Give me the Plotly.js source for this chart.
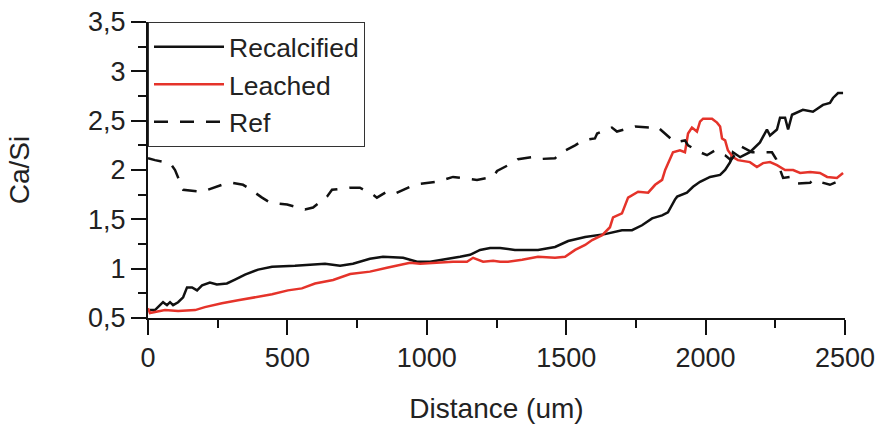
<!DOCTYPE html>
<html>
<head>
<meta charset="utf-8">
<script src="https://cdn.plot.ly/plotly-3.0.1.min.js"></script>
<style>html,body{margin:0;padding:0;background:#fff;}#chart{width:883px;height:426px;}</style>
</head>
<body>
<div id="chart"></div>
<script>
// Recalcified (black solid)
const recalX = [7,25,43,54,68,79,90,108,126,140,158,176,194,222,247,283,312,348,395,445,527,588,635,689,735,796,843,915,965,1012,1058,1119,1155,1191,1227,1263,1316,1399,1460,1507,1568,1639,1700,1736,1772,1808,1844,1865,1890,1898,1933,1955,1980,2016,2052,2070,2088,2098,2124,2159,2195,2220,2231,2256,2267,2285,2296,2310,2349,2385,2421,2446,2457,2475,2493];
const recalY = [0.58,0.58,0.63,0.66,0.63,0.66,0.63,0.66,0.71,0.81,0.81,0.78,0.83,0.86,0.84,0.85,0.89,0.94,0.99,1.02,1.03,1.04,1.05,1.03,1.05,1.10,1.12,1.11,1.07,1.07,1.09,1.12,1.14,1.19,1.21,1.21,1.19,1.19,1.22,1.28,1.32,1.35,1.39,1.39,1.44,1.51,1.54,1.57,1.70,1.73,1.77,1.83,1.88,1.93,1.95,2.00,2.08,2.18,2.13,2.18,2.28,2.41,2.35,2.41,2.53,2.53,2.41,2.56,2.61,2.59,2.66,2.68,2.73,2.78,2.78];

// Leached (red solid)
const leachX = [0,7,25,61,108,169,204,265,323,384,445,502,552,599,664,725,796,857,915,940,976,1037,1094,1144,1166,1202,1238,1263,1291,1342,1399,1460,1496,1532,1568,1593,1629,1657,1668,1700,1722,1758,1794,1819,1844,1855,1872,1883,1908,1926,1937,1951,1969,1980,1991,2023,2041,2052,2059,2070,2080,2098,2116,2159,2184,2206,2231,2256,2285,2314,2339,2375,2410,2436,2471,2493];
const leachY = [0.60,0.55,0.56,0.58,0.57,0.58,0.61,0.65,0.68,0.71,0.74,0.78,0.80,0.85,0.885,0.945,0.97,1.01,1.04,1.06,1.05,1.06,1.07,1.07,1.11,1.07,1.08,1.07,1.07,1.09,1.12,1.11,1.12,1.19,1.24,1.29,1.34,1.42,1.52,1.56,1.72,1.78,1.77,1.85,1.90,2.00,2.10,2.18,2.20,2.18,2.37,2.43,2.39,2.49,2.52,2.52,2.48,2.44,2.32,2.30,2.20,2.13,2.10,2.08,2.03,2.07,2.08,2.05,2.00,2.00,1.97,1.98,1.97,1.93,1.92,1.97];

// Ref (black dashed)
const refX = [0,25,79,97,126,194,265,301,341,359,409,438,499,563,592,642,660,725,760,807,821,857,886,940,976,1037,1094,1119,1180,1238,1252,1306,1327,1377,1399,1460,1485,1532,1560,1603,1611,1664,1682,1747,1808,1826,1872,1890,1926,1937,1980,2005,2034,2070,2091,2127,2167,2238,2253,2278,2303,2321,2375,2385,2446,2471,2493];
const refY = [2.12,2.10,2.07,2.00,1.80,1.78,1.85,1.87,1.85,1.82,1.72,1.67,1.65,1.60,1.62,1.73,1.80,1.82,1.82,1.75,1.72,1.78,1.76,1.83,1.86,1.88,1.93,1.92,1.90,1.93,1.99,2.07,2.11,2.13,2.11,2.12,2.18,2.25,2.30,2.32,2.37,2.43,2.39,2.44,2.43,2.44,2.32,2.28,2.30,2.25,2.18,2.15,2.20,2.15,2.10,2.24,2.18,2.18,2.11,1.92,1.93,1.86,1.87,1.90,1.85,1.88,1.93];

const seriesNames = ['Recalcified','Leached','Ref'];
const yTickVals = [0.5,1,1.5,2,2.5,3,3.5];
const yTickText = ['0,5','1','1,5','2','2,5','3','3,5'];
const yMinorVals = [0.75,1.25,1.75,2.25,2.75,3.25];
const xTickVals = [0,500,1000,1500,2000,2500];
const xTickText = ['0','500','1000','1500','2000','2500'];
const xMinorVals = [250,750,1250,1750,2250];

const FONT = 'Liberation Sans, Arial, sans-serif';

const traces = [
  {x: recalX, y: recalY, name: seriesNames[0], mode: 'lines', line: {color: '#111111', width: 2.5}},
  {x: leachX, y: leachY, name: seriesNames[1], mode: 'lines', line: {color: '#e5332a', width: 2.5}},
  {x: refX, y: refY, name: seriesNames[2], mode: 'lines', line: {color: '#111111', width: 2.5, dash: '14px,12px'}}
];

const layout = {
  width: 883, height: 426,
  margin: {l: 148, r: 38, t: 22, b: 108},
  paper_bgcolor: '#ffffff', plot_bgcolor: '#ffffff',
  font: {family: FONT, size: 27, color: '#222222'},
  showlegend: true,
  legend: {
    x: 0, y: 1, xanchor: 'left', yanchor: 'top',
    bgcolor: '#ffffff', bordercolor: '#333333', borderwidth: 1,
    font: {family: FONT, size: 26.5, color: '#222222'},
    itemwidth: 70, tracegroupgap: 0
  },
  xaxis: {
    range: [0, 2500], showgrid: false, zeroline: false,
    showline: true, linecolor: '#111111', linewidth: 2,
    ticks: 'outside', ticklen: 15, tickwidth: 2, tickcolor: '#111111',
    tickvals: xTickVals, ticktext: xTickText,
    minor: {tickvals: xMinorVals, ticks: 'outside', ticklen: 8, tickwidth: 2, tickcolor: '#111111'},
    tickfont: {family: FONT, size: 27, color: '#222222'},
    title: {text: 'Distance (um)', font: {family: FONT, size: 28, color: '#222222'}, standoff: 26}
  },
  yaxis: {
    range: [0.5, 3.5], showgrid: false, zeroline: false,
    showline: true, linecolor: '#111111', linewidth: 2,
    ticks: 'outside', ticklen: 15, tickwidth: 2, tickcolor: '#111111',
    tickvals: yTickVals, ticktext: yTickText,
    minor: {tickvals: yMinorVals, ticks: 'outside', ticklen: 8, tickwidth: 2, tickcolor: '#111111'},
    tickfont: {family: FONT, size: 27, color: '#222222'},
    title: {text: 'Ca/Si', font: {family: FONT, size: 28, color: '#222222'}, standoff: 50}
  }
};

Plotly.newPlot('chart', traces, layout, {displayModeBar: false, staticPlot: true});
</script>
</body>
</html>
